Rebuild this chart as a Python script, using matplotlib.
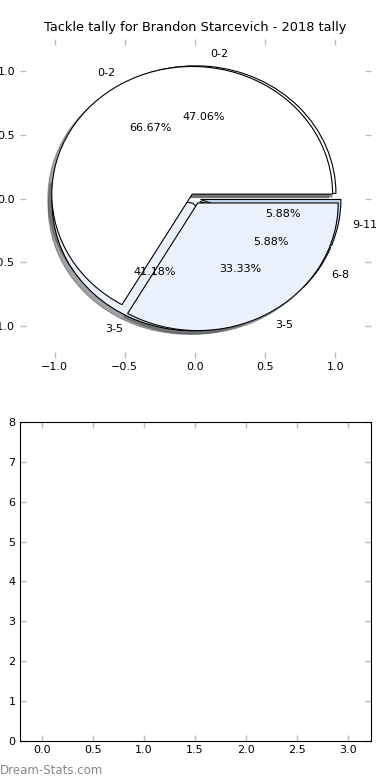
import matplotlib
matplotlib.use('Agg')
import matplotlib.pyplot as plt

plt.rcParams['font.family'] = ['DejaVu Sans']
plt.rcParams['font.size'] = 8

# chart data
title = 'Tackle tally for Brandon Starcevich - 2018 tally'
outer_labels = ['0-2', '3-5', '6-8', '9-11']
outer_counts = [8, 7, 1, 1]
inner_labels = ['0-2', '3-5']
inner_counts = [2, 1]
pie_ticks = [-1.0, -0.5, 0.0, 0.5, 1.0]
bar_xticks = [0.0, 0.5, 1.0, 1.5, 2.0, 2.5, 3.0]
bar_yticks = [0, 1, 2, 3, 4, 5, 6, 7, 8]

light_blue = '#eaf0fc'

fig, (ax1, ax2) = plt.subplots(2, 1, figsize=(3.9, 7.8), dpi=100)
fig.subplots_adjust(left=0.05, right=0.95, bottom=0.05, top=0.95, hspace=0.2)

# pie underneath, then the second one drawn over it
ax1.pie(outer_counts, labels=outer_labels, autopct='%.2f%%',
        explode=[0.04] * len(outer_counts), shadow=True,
        colors=['white', light_blue, '#d6e4f8', '#c4d8f5'],
        wedgeprops={'edgecolor': 'black', 'linewidth': 0.8})
ax1.pie(inner_counts, labels=inner_labels, autopct='%.2f%%',
        explode=[0.04] * len(inner_counts), shadow=True,
        colors=['white', light_blue],
        wedgeprops={'edgecolor': 'black', 'linewidth': 0.8})
ax1.set_aspect('auto')
ax1.set_xlim(-1.25, 1.25)
ax1.set_ylim(-1.25, 1.25)
ax1.set_xticks(pie_ticks)
ax1.set_yticks(pie_ticks)
ax1.set_frame_on(False)
ax1.set_title(title, fontsize=9.3)

# empty lower panel
ax2.set_xlim(-0.22, 3.22)
ax2.set_ylim(0, 8)
ax2.set_xticks(bar_xticks)
ax2.set_yticks(bar_yticks)

for ax in (ax1, ax2):
    ax.tick_params(direction='in', length=4, width=1, color='#bbbbbb',
                   top=True, right=True, labelsize=8, pad=3)

fig.text(0.0, 0.004, 'Dream-Stats.com', color='#888888', fontsize=8.5,
         ha='left', va='bottom')

fig.savefig('out.png', dpi=100, facecolor='white')
